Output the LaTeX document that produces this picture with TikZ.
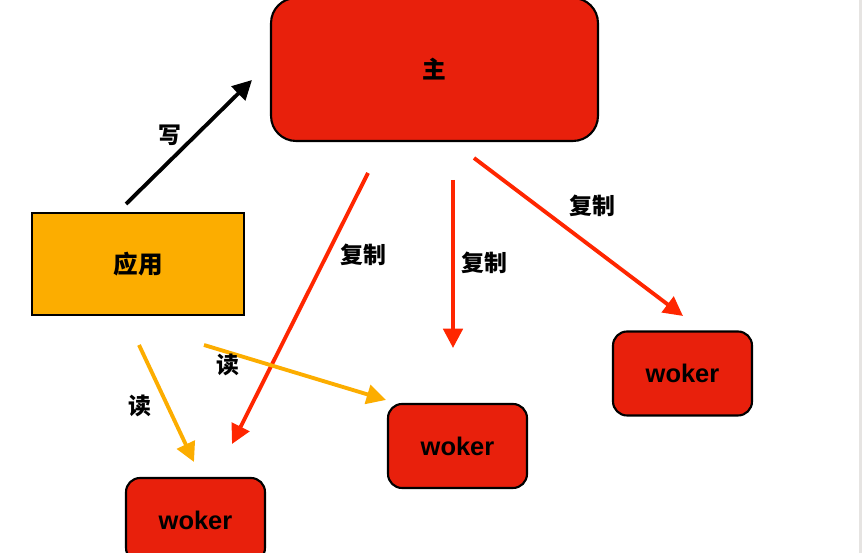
\documentclass[tikz,border=0pt]{standalone}
\usepackage{fontspec}
\setmainfont{Liberation Sans}
\newfontfamily\cjk{Noto Sans CJK SC}
\usetikzlibrary{arrows.meta}
\definecolor{boxred}{HTML}{E8200C}
\definecolor{linered}{HTML}{FF2600}
\definecolor{boxorange}{HTML}{FCAD00}
\definecolor{edgegray}{HTML}{E6E4E2}
\tikzset{
    mainnode/.style = {rectangle, rounded corners=0.5cm, line width=1.2pt, draw=black, fill=boxred, inner sep=0pt, minimum width=6.54cm, minimum height=2.86cm, font=\cjk\bfseries\fontsize{13.5pt}{15pt}\selectfont},
    appnode/.style = {rectangle, line width=1.2pt, draw=black, fill=boxorange, inner sep=0pt, minimum width=4.24cm, minimum height=2.04cm, font=\cjk\bfseries\fontsize{14pt}{16pt}\selectfont},
    wokernode/.style = {rectangle, rounded corners=0.28cm, line width=1.2pt, draw=black, fill=boxred, inner sep=0pt, minimum width=2.78cm, minimum height=1.68cm, font=\bfseries\fontsize{14.5pt}{16pt}\selectfont},
    lbl/.style = {inner sep=0pt, font=\cjk\bfseries\fontsize{13pt}{15pt}\selectfont},
    edgew/.style = {line width=2.2pt, black, -{Triangle[length=11pt,width=11pt]}}, % write
    edgec/.style = {line width=2.2pt, linered, -{Triangle[length=11pt,width=11pt]}}, % copy
    edger/.style = {line width=2.2pt, boxorange, -{Triangle[length=11pt,width=11pt]}}, % read
}

\begin{document}
\begin{tikzpicture}[x=0.02cm, y=-0.02cm]
  \useasboundingbox (0,0) rectangle (862,553);
  \fill[edgegray] (859,0) rectangle (862,553);

  \node[mainnode] (master) at (434.5,69.5) {主};
  \node[appnode] (app) at (138,264) {应用};
  \node[wokernode] (w1) at (195.5,520) {woker};
  \node[wokernode] (w2) at (457.5,446) {woker};
  \node[wokernode] (w3) at (682.5,373.5) {woker};

  % arrow ends
  \coordinate (ws) at (126,204);   \coordinate (we) at (252,80);
  \coordinate (c1s) at (368,173);  \coordinate (c1e) at (232,444);
  \coordinate (c2s) at (453,180);  \coordinate (c2e) at (453,348);
  \coordinate (c3s) at (474,158);  \coordinate (c3e) at (683,316);
  \coordinate (r1s) at (139,345);  \coordinate (r1e) at (194,462);
  \coordinate (r2s) at (204,345);  \coordinate (r2e) at (386,400);

  \draw[edgew] (ws) -- (we);
  \draw[edgec] (c1s) -- (c1e);
  \draw[edgec] (c2s) -- (c2e);
  \draw[edgec] (c3s) -- (c3e);
  \draw[edger] (r1s) -- (r1e);
  \draw[edger] (r2s) -- (r2e);

  \node[lbl] (lw) at (170,135) {写};
  \node[lbl] (lc1) at (363,255) {复制};
  \node[lbl] (lc2) at (484,263) {复制};
  \node[lbl] (lc3) at (592,206) {复制};
  \node[lbl] (lr1) at (140,406) {读};
  \node[lbl] (lr2) at (228,365) {读};
\end{tikzpicture}
\end{document}
